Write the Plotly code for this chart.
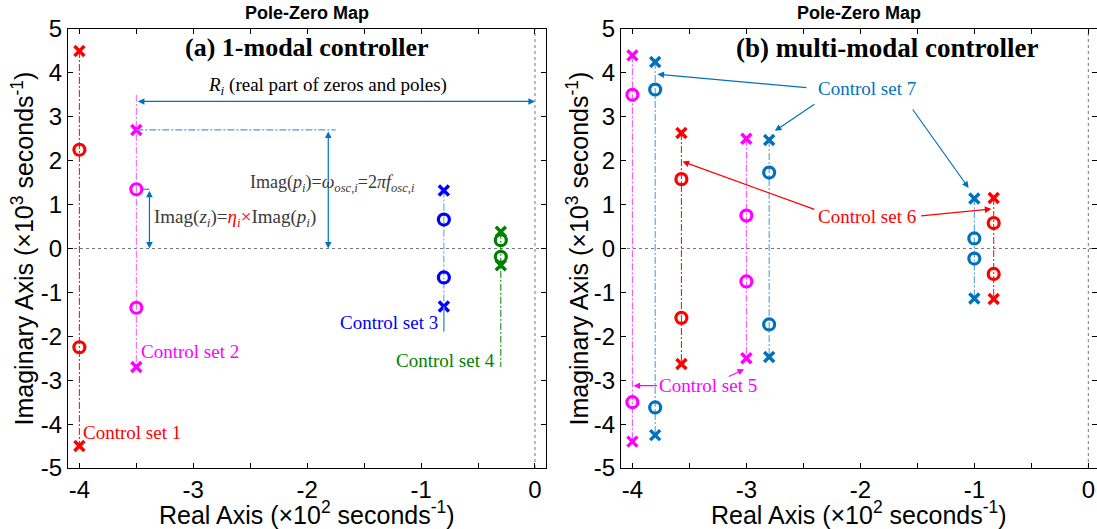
import plotly.graph_objects as go

# ---------------- data ----------------
# (a) single-mode controller: one conjugate pole/zero pair per control set
A_NAMES = ["Control set 1", "Control set 2", "Control set 3", "Control set 4"]
A_REAL = [-4.0, -3.5, -0.8, -0.3]            # real part, x10^2 s^-1
A_POLE_IMAG = [4.5, 2.7, 1.32, 0.38]         # imaginary part of poles, x10^3 s^-1
A_ZERO_IMAG = [2.25, 1.35, 0.66, 0.19]       # imaginary part of zeros, x10^3 s^-1

# (b) multi-mode controller: several pole/zero pairs per control set
B_SET = [5, 5, 6, 6, 7, 7, 7]
B_REAL = [-4.0, -3.0, -3.57, -0.83, -3.8, -2.8, -1.0]
B_POLE_IMAG = [4.4, 2.5, 2.63, 1.15, 4.25, 2.47, 1.14]
B_ZERO_IMAG = [3.5, 0.75, 1.58, 0.58, 3.62, 1.73, 0.23]

X_TICKS = [-4, -3, -2, -1, 0]
Y_TICKS = [-5, -4, -3, -2, -1, 0, 1, 2, 3, 4, 5]

# ---------------- styling ----------------
RED = "#FF0000"
MAGENTA = "#FF00FF"
BLUE = "#0000FF"
GREEN = "#008000"
MBLUE = "#0072BD"
LIGHTBLUE = "#4F9BD8"
A_COLORS = [RED, MAGENTA, BLUE, GREEN]
A_LINE_COLORS = [RED, "#FF55FF", LIGHTBLUE, GREEN]
B_COLORS = {5: MAGENTA, 6: RED, 7: MBLUE}
B_LINE_COLORS = {5: "#FF44FF", 6: RED, 7: "#4A93CF"}

SERIF = "Liberation Serif, Times New Roman, serif"
SANS = "Liberation Sans, Arial, sans-serif"
DASHDOT = "7px,2px,2px,2px"

X_RANGE_A = [-4.1, 0.1]
X_RANGE_B = [-4.1, 0.0763]
Y_RANGE = [-5, 5]

fig = go.Figure()


def add_pair(xa, ya, re, pole, zero, color, line_color, top, bottom):
    # connecting dash-dot line of the conjugate pair
    fig.add_trace(go.Scatter(
        x=[re, re], y=[top, bottom], mode="lines",
        line=dict(color=line_color, width=1, dash=DASHDOT),
        xaxis=xa, yaxis=ya, hoverinfo="skip", showlegend=False))
    # poles (x) and zeros (o)
    fig.add_trace(go.Scatter(
        x=[re, re], y=[pole, -pole], mode="markers",
        marker=dict(symbol="x-thin-open", size=10, color=color,
                    line=dict(color=color, width=3.4)),
        xaxis=xa, yaxis=ya, showlegend=False))
    fig.add_trace(go.Scatter(
        x=[re, re], y=[zero, -zero], mode="markers",
        marker=dict(symbol="circle-open", size=11, color=color,
                    line=dict(color=color, width=3.2)),
        xaxis=xa, yaxis=ya, showlegend=False))


# ---- panel (a)
a_tops = [A_POLE_IMAG[0], 3.5, A_POLE_IMAG[2], A_POLE_IMAG[3]]
a_bottoms = [-A_POLE_IMAG[0], -A_POLE_IMAG[1], -A_POLE_IMAG[2], -2.7]
for i in range(len(A_REAL)):
    add_pair("x", "y", A_REAL[i], A_POLE_IMAG[i], A_ZERO_IMAG[i],
             A_COLORS[i], A_LINE_COLORS[i], a_tops[i], a_bottoms[i])

# solid leader of control set 3 label
fig.add_trace(go.Scatter(
    x=[A_REAL[2], A_REAL[2]], y=[-A_POLE_IMAG[2], -1.89], mode="lines",
    line=dict(color=LIGHTBLUE, width=1.5), hoverinfo="skip", showlegend=False))

# dimension line for Imag(p_i)
fig.add_trace(go.Scatter(
    x=[A_REAL[1], -1.75], y=[A_POLE_IMAG[1], A_POLE_IMAG[1]], mode="lines",
    line=dict(color=LIGHTBLUE, width=1.2, dash=DASHDOT),
    hoverinfo="skip", showlegend=False))
# short tick for Imag(z_i)
fig.add_trace(go.Scatter(
    x=[A_REAL[1] + 0.05, -3.385], y=[A_ZERO_IMAG[1], A_ZERO_IMAG[1]], mode="lines",
    line=dict(color=MBLUE, width=1.2), hoverinfo="skip", showlegend=False))

# ---- panel (b)
for i in range(len(B_REAL)):
    s = B_SET[i]
    add_pair("x2", "y2", B_REAL[i], B_POLE_IMAG[i], B_ZERO_IMAG[i],
             B_COLORS[s], B_LINE_COLORS[s], B_POLE_IMAG[i], -B_POLE_IMAG[i])

# ---------------- annotations ----------------
ann = []


def text(xref, yref, x, y, t, color="black", size=19, xanchor="center",
         family=SERIF):
    ann.append(dict(xref=xref, yref=yref, x=x, y=y, text=t, showarrow=False,
                    xanchor=xanchor, yanchor="middle",
                    font=dict(family=family, size=size, color=color)))


def arrow(xref, yref, x0, y0, x1, y1, color, both=False, width=1.2):
    ann.append(dict(xref=xref, yref=yref, axref=xref, ayref=yref,
                    x=x1, y=y1, ax=x0, ay=y0, text="", showarrow=True,
                    arrowhead=2, startarrowhead=2, arrowsize=1.1,
                    startarrowsize=1.1, arrowwidth=width, arrowcolor=color,
                    arrowside="end+start" if both else "end"))


# panel (a)
text("x", "y", -2.0, 4.57, "<b>(a) 1-modal controller</b>", size=26)
text("x", "y", -1.82, 3.71,
     "<i>R</i><sub><i>i</i></sub> (real part of zeros and poles)", size=19)
arrow("x", "y", A_REAL[1], 3.35, 0.0, 3.35, MBLUE, both=True)
arrow("x", "y", -1.815, A_POLE_IMAG[1], -1.815, 0.0, MBLUE, both=True)
arrow("x", "y", -3.385, A_ZERO_IMAG[1], -3.385, 0.0, MBLUE, both=True)
text("x", "y", -1.78, 1.49,
     "Imag(<i>p</i><sub><i>i</i></sub>)=<i>ω</i><sub><i>osc,i</i></sub>"
     "=2<i>πf</i><sub><i>osc,i</i></sub>", color="#3a3a3a", size=18)
text("x", "y", -2.63, 0.70,
     "Imag(<i>z</i><sub><i>i</i></sub>)=<span style='color:#FF0000'><i>η</i>"
     "<sub><i>i</i></sub>×</span>Imag(<i>p</i><sub><i>i</i></sub>)",
     color="#3a3a3a", size=19)
text("x", "y", -3.985, -4.2, A_NAMES[0], color=RED, xanchor="left")
text("x", "y", -3.48, -2.35, A_NAMES[1], color=MAGENTA, xanchor="left")
text("x", "y", -0.83, -1.69, A_NAMES[2], color=BLUE, xanchor="right")
text("x", "y", -0.335, -2.55, A_NAMES[3], color=GREEN, xanchor="right")

# panel (b)
text("x2", "y2", -1.77, 4.57, "<b>(b) multi-modal controller</b>", size=27)
text("x2", "y2", -1.94, 3.64, "Control set 7", color=MBLUE)
arrow("x2", "y2", -2.46, 3.66, -3.78, 3.97, MBLUE)
arrow("x2", "y2", -2.39, 3.31, -2.75, 2.68, MBLUE)
arrow("x2", "y2", -1.55, 3.2, -1.05, 1.38, MBLUE)
text("x2", "y2", -1.94, 0.74, "Control set 6", color=RED)
arrow("x2", "y2", -2.39, 0.88, -3.56, 1.98, RED)
arrow("x2", "y2", -1.48, 0.74, -0.85, 0.90, RED)
text("x2", "y2", -3.34, -3.125, "Control set 5", color=MAGENTA)
arrow("x2", "y2", -3.77, -3.125, -3.99, -3.125, MAGENTA)
arrow("x2", "y2", -3.167, -2.93, -3.02, -2.75, MAGENTA)

# titles and axis labels
for xc, xy in [(0.2325, -0.0447), (0.7687, 0.4947)]:
    ann.append(dict(xref="paper", yref="paper", x=xc, y=1.037,
                    text="<b>Pole-Zero Map</b>", showarrow=False,
                    xanchor="center", yanchor="middle",
                    font=dict(family=SANS, size=18, color="black")))
    ann.append(dict(xref="paper", yref="paper", x=xc, y=-0.102,
                    text="Real Axis (×10<sup>2</sup> seconds<sup>-1</sup>)",
                    showarrow=False, xanchor="center", yanchor="middle",
                    font=dict(family=SANS, size=25, color="black")))
    ann.append(dict(xref="paper", yref="paper", x=xy, y=0.5, textangle=-90,
                    text="Imaginary Axis (×10<sup>3</sup> seconds<sup>-1</sup>)",
                    showarrow=False, xanchor="center", yanchor="middle",
                    font=dict(family=SANS, size=25, color="black")))

# zero reference lines
shapes = []
for xr, yr, rng in [("x", "y", X_RANGE_A), ("x2", "y2", X_RANGE_B)]:
    shapes.append(dict(type="line", xref=xr, yref=yr, x0=rng[0], x1=rng[1],
                       y0=0, y1=0, layer="below",
                       line=dict(color="#777777", width=1, dash="dot")))
    shapes.append(dict(type="line", xref=xr, yref=yr, x0=0, x1=0,
                       y0=Y_RANGE[0], y1=Y_RANGE[1], layer="below",
                       line=dict(color="#777777", width=1, dash="dot")))

axis_common = dict(showline=True, linecolor="black", linewidth=1, mirror="ticks",
                   ticks="inside", ticklen=5, tickcolor="black", showgrid=False,
                   zeroline=False, tickfont=dict(family=SANS, size=24, color="black"))
xcommon = dict(axis_common, tickvals=X_TICKS, ticktext=[str(v) for v in X_TICKS],
               minor=dict(dtick=0.5, ticks="inside", ticklen=5, tickcolor="black",
                          showgrid=False))
ycommon = dict(axis_common, tickvals=Y_TICKS, ticktext=[str(v) for v in Y_TICKS],
               range=Y_RANGE)

fig.update_layout(
    width=1097, height=529,
    margin=dict(l=68, r=0, t=29, b=61),
    paper_bgcolor="white", plot_bgcolor="white",
    xaxis=dict(xcommon, domain=[0, 0.4649], range=X_RANGE_A, anchor="y"),
    yaxis=dict(ycommon, anchor="x"),
    xaxis2=dict(xcommon, domain=[0.5374, 1.0], range=X_RANGE_B, anchor="y2"),
    yaxis2=dict(ycommon, anchor="x2"),
    annotations=ann, shapes=shapes, showlegend=False,
)

fig.write_html("out.html")
